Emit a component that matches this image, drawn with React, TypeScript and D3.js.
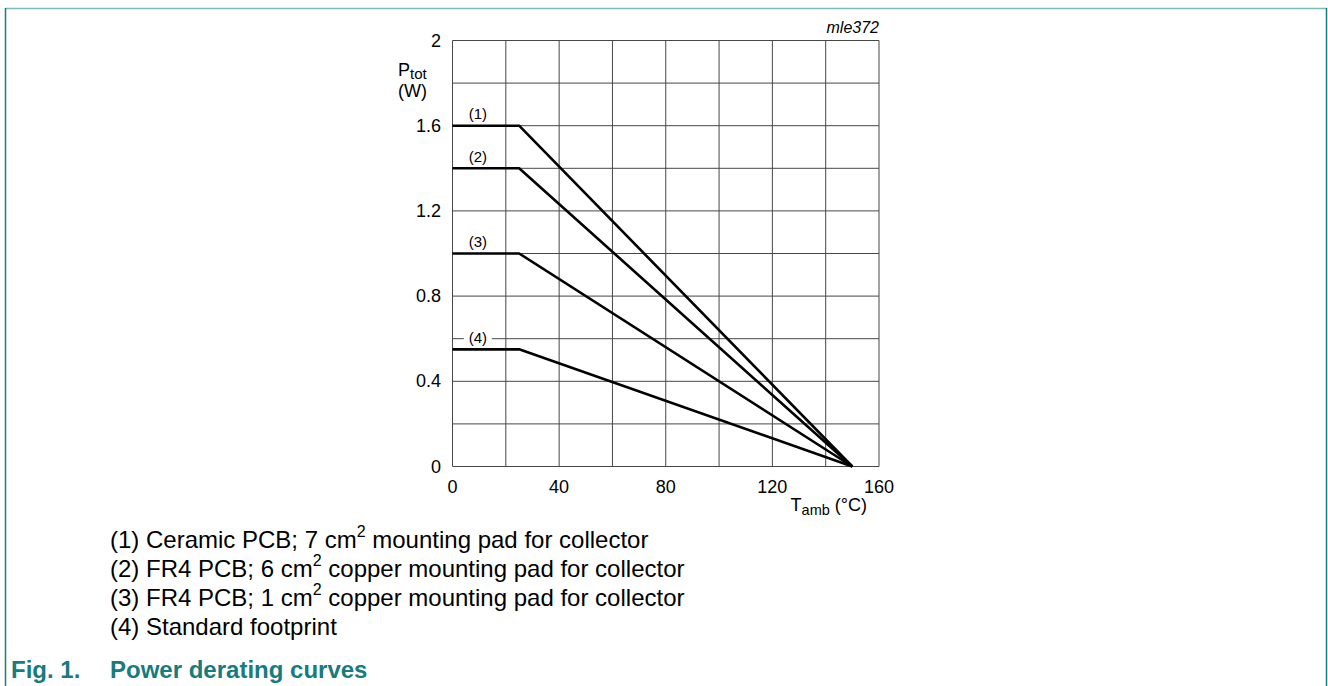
import React from "react";
import * as d3 from "d3";

const xTicks = [0, 40, 80, 120, 160];
const yTicks = [0, 0.4, 0.8, 1.2, 1.6, 2];
const xGrid = [0, 20, 40, 60, 80, 100, 120, 140, 160];
const yGrid = [0, 0.2, 0.4, 0.6, 0.8, 1.0, 1.2, 1.4, 1.6, 1.8, 2.0];
const curveLabels = ["(1)", "(2)", "(3)", "(4)"];
const curveMax = [1.6, 1.4, 1.0, 0.55];
const curveKneeT = [25, 25, 25, 25];
const curveEndT = [150, 150, 150, 150];
const legendItems = [
  { pre: "(1) Ceramic PCB; 7 cm", post: " mounting pad for collector", sup: true },
  { pre: "(2) FR4 PCB; 6 cm", post: " copper mounting pad for collector", sup: true },
  { pre: "(3) FR4 PCB; 1 cm", post: " copper mounting pad for collector", sup: true },
  { pre: "(4) Standard footprint", post: "", sup: false },
];

const FONT = "'Liberation Sans', Arial, sans-serif";
const TEAL = "#187b7e";

export default function App() {
  const x = d3.scaleLinear().domain([0, 160]).range([452.5, 879]);
  const y = d3.scaleLinear().domain([0, 2]).range([466.5, 40.5]);
  const line = d3
    .line<[number, number]>()
    .x((d) => x(d[0]))
    .y((d) => y(d[1]));

  return (
    <svg
      width={1328}
      height={686}
      style={{ position: "absolute", left: 0, top: 0, background: "#fff" }}
      fontFamily={FONT}
    >
      {/* frame */}
      <line x1={5} x2={1327} y1={8.5} y2={8.5} stroke="#7dbcbd" strokeWidth={1.5} />
      <line x1={5.5} x2={5.5} y1={8} y2={686} stroke={TEAL} strokeWidth={1.5} />
      <line x1={1326.5} x2={1326.5} y1={8} y2={686} stroke={TEAL} strokeWidth={1.5} />

      {/* grid */}
      {xGrid.map((v) => (
        <line key={"gx" + v} x1={x(v)} x2={x(v)} y1={y(0)} y2={y(2)} stroke="#474747" strokeWidth={1} />
      ))}
      {yGrid.map((v) => (
        <line key={"gy" + v} x1={x(0)} x2={x(160)} y1={y(v)} y2={y(v)} stroke="#474747" strokeWidth={1} />
      ))}

      {/* curves */}
      {curveMax.map((m, i) => (
        <path
          key={"c" + i}
          d={line([
            [0, m],
            [curveKneeT[i], m],
            [curveEndT[i], 0],
          ]) as string}
          fill="none"
          stroke="#000"
          strokeWidth={2.6}
          strokeLinejoin="round"
        />
      ))}

      {/* curve labels */}
      {curveLabels.map((lab, i) => {
        const cx = x(9.5);
        if (i === 3) {
          const cy = y(0.6);
          return (
            <g key={"l" + i}>
              <rect x={cx - 14} y={cy - 8} width={28} height={16} fill="#fff" />
              <text x={cx} y={cy + 4.5} fontSize={15} textAnchor="middle" fill="#000">
                {lab}
              </text>
            </g>
          );
        }
        return (
          <text key={"l" + i} x={cx} y={y(curveMax[i]) - 6.5} fontSize={15} textAnchor="middle" fill="#000">
            {lab}
          </text>
        );
      })}

      {/* y tick labels */}
      {yTicks.map((v) => (
        <text key={"yt" + v} x={441} y={y(v) + 6} fontSize={18} textAnchor="end" fill="#000">
          {d3.format("~g")(v)}
        </text>
      ))}
      {/* x tick labels */}
      {xTicks.map((v) => (
        <text key={"xt" + v} x={x(v)} y={493} fontSize={18} textAnchor="middle" fill="#000">
          {v}
        </text>
      ))}

      {/* axis titles */}
      <text x={398} y={76} fontSize={18} fill="#000">
        P<tspan fontSize={15} dy={3}>tot</tspan>
      </text>
      <text x={398} y={97} fontSize={18} fill="#000">
        (W)
      </text>
      <text x={867} y={511} fontSize={18} textAnchor="end" fill="#000">
        T<tspan fontSize={14.5} dy={4}>amb</tspan>
        <tspan fontSize={18} dy={-4}> (°C)</tspan>
      </text>
      <text x={879} y={33} fontSize={16} fontStyle="italic" textAnchor="end" fill="#000">
        mle372
      </text>

      {/* legend */}
      {legendItems.map((it, i) => (
        <text key={"lg" + i} x={110} y={548 + i * 29} fontSize={24} fill="#000">
          {it.pre}
          {it.sup ? (
            <tspan fontSize={16} dy={-11}>
              2
            </tspan>
          ) : null}
          {it.sup ? <tspan dy={11}>{it.post}</tspan> : null}
        </text>
      ))}

      {/* caption */}
      <text x={11} y={678} fontSize={24} fontWeight="bold" fill={TEAL}>
        Fig. 1.
      </text>
      <text x={110} y={678} fontSize={24} fontWeight="bold" fill={TEAL}>
        Power derating curves
      </text>
    </svg>
  );
}
